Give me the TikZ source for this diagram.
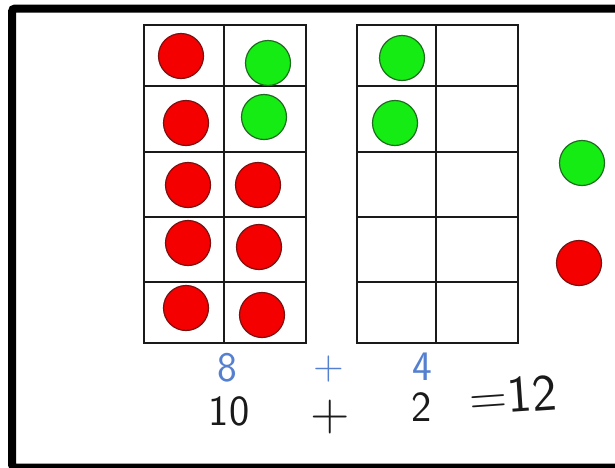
\documentclass[tikz,border=0pt]{standalone}
\usepackage{xcolor}
\definecolor{dotred}{HTML}{F40000}
\definecolor{dotredline}{HTML}{7A1010}
\definecolor{dotgreen}{HTML}{14EC14}
\definecolor{dotgreenline}{HTML}{1F6B1F}
\definecolor{penblue}{HTML}{5580D0}
\definecolor{pendark}{HTML}{1A1A1A}
\usepackage{tikz}
\usetikzlibrary{positioning}

\begin{document}
\begin{tikzpicture}[x=1pt, y=-1pt,
  frameline/.style={draw=pendark, line width=1.8pt},
  reddot/.style={circle, fill=dotred, draw=dotredline, line width=1.2pt,
                 minimum size=45pt, inner sep=0pt},
  greendot/.style={circle, fill=dotgreen, draw=dotgreenline, line width=1.2pt,
                   minimum size=45pt, inner sep=0pt},
  bluenum/.style={font=\sffamily\fontsize{42}{42}\selectfont, text=penblue,
                  inner sep=0pt},
  blacknum/.style={font=\sffamily\fontsize{43}{43}\selectfont, text=pendark,
                   inner sep=0pt}
]
  \useasboundingbox (0,0) rectangle (615,467);
  \clip (0,0) rectangle (615,467);
  \draw[line width=8pt, rounded corners=3pt] (12,8.5) rectangle (640,467.5);

  % left ten-frame
  \draw[frameline] (144,25) rectangle (306,343);
  \draw[frameline] (224,25) -- (224,343);
  \draw[frameline] (144,86) -- (306,86);
  \draw[frameline] (144,152) -- (306,152);
  \draw[frameline] (144,217) -- (306,217);
  \draw[frameline] (144,282) -- (306,282);

  % right ten-frame
  \draw[frameline] (357,25) rectangle (518,343);
  \draw[frameline] (436,25) -- (436,343);
  \draw[frameline] (357,86) -- (518,86);
  \draw[frameline] (357,152) -- (518,152);
  \draw[frameline] (357,217) -- (518,217);
  \draw[frameline] (357,282) -- (518,282);

  % counters in the left frame
  \node[reddot] (r1) at (181,56) {};
  \node[greendot] (g1) at (268,63) {};
  \node[reddot] (r2) at (186,123) {};
  \node[greendot] (g2) at (264,117) {};
  \node[reddot] (r3) at (188,185) {};
  \node[reddot] (r4) at (258,185) {};
  \node[reddot] (r5) at (188,243) {};
  \node[reddot] (r6) at (259,247) {};
  \node[reddot] (r7) at (186,308) {};
  \node[reddot] (r8) at (262,315) {};

  % counters in the right frame
  \node[greendot] (g3) at (402,58) {};
  \node[greendot] (g4) at (395,123) {};

  % loose counters
  \node[greendot] (gside) at (582,163) {};
  \node[reddot] (rside) at (579,263) {};

  % sums
  \node[bluenum] (eight) at (227,368) {8};
  \node[bluenum, font=\sffamily\fontsize{42}{42}\selectfont] (bplus)
    at (329,369) {+};
  \node[bluenum] (four) at (422,367) {4};

  \node[blacknum] (ten) at (229,411) {10};
  \node[blacknum, font=\sffamily\fontsize{54}{54}\selectfont] (kplus)
    at (330,417) {+};
  \node[blacknum] (two) at (422,407) {2};
  \node[blacknum, font=\sffamily\fontsize{52}{52}\selectfont, rotate=4]
    (twelve) at (513,395) {=12};

\end{tikzpicture}
\end{document}
